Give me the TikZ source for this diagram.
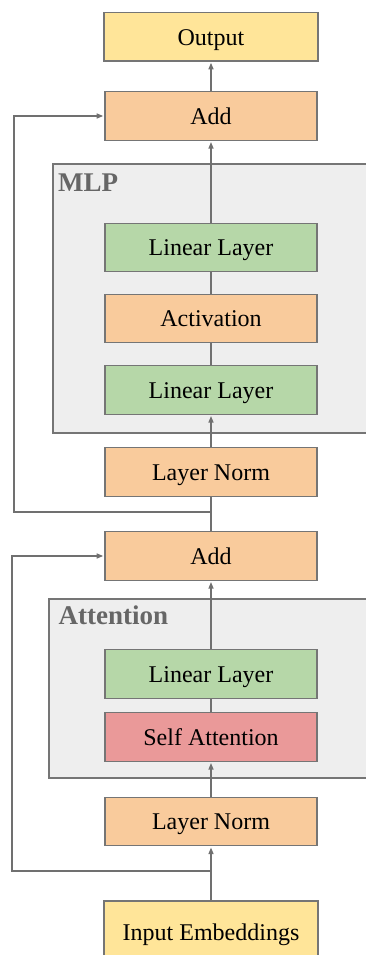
\documentclass[tikz,border=0pt]{standalone}
\usepackage{fontspec}
\setmainfont{Liberation Serif}
\usetikzlibrary{arrows.meta}
\definecolor{boxline}{HTML}{757575}
\definecolor{wire}{HTML}{707070}
\definecolor{paleyellow}{HTML}{FFE599}
\definecolor{paleorange}{HTML}{F9CB9C}
\definecolor{palegreen}{HTML}{B6D7A8}
\definecolor{palered}{HTML}{EA9999}
\definecolor{groupfill}{HTML}{EEEEEE}
\definecolor{grouptext}{HTML}{666666}

\begin{document}
\begin{tikzpicture}[x=1pt,y=-1pt,
  block/.style={draw=boxline, line width=1.2pt, minimum width=212pt, minimum height=48.5pt,
    inner sep=0pt, text height=16.6pt, text depth=0pt, font=\fontsize{24}{28}\selectfont},
  ioblock/.style={block, fill=paleyellow, minimum width=214pt},
  normblock/.style={block, fill=paleorange},
  linblock/.style={block, fill=palegreen},
  attblock/.style={block, fill=palered},
  group/.style={draw=boxline, line width=1.2pt, fill=groupfill},
  grouplabel/.style={anchor=base west, inner sep=0pt, text=grouptext,
    font=\fontsize{27}{30}\selectfont\bfseries},
  flow/.style={draw=wire, line width=1.3pt},
  arr/.style={flow, -{Triangle[length=6.5pt,width=5pt]}, shorten >=1.2pt}]

\useasboundingbox (0,0) rectangle (366,955);
\clip (0,0) rectangle (366,955);

% grouping panels
\path[group] (53,164) rectangle (372,433);
\node[grouplabel] (mlplabel) at (58,191) {MLP};
\path[group] (49,599) rectangle (372,778);
\node[grouplabel] (attlabel) at (58.5,624) {Attention};

% blocks, top to bottom
\node[ioblock]   (out)     at (211,36.75) {Output};
\node[normblock] (addtop)  at (211,116)   {Add};
\node[linblock]  (lin2)    at (211,247.5) {Linear Layer};
\node[normblock] (act)     at (211,318.5) {Activation};
\node[linblock]  (lin1)    at (211,390)   {Linear Layer};
\node[normblock] (ln2)     at (211,472)   {Layer Norm};
\node[normblock] (addmid)  at (211,556)   {Add};
\node[linblock]  (attlin)  at (211,674)   {Linear Layer};
\node[attblock]  (selfatt) at (211,737)   {Self Attention};
\node[normblock] (ln1)     at (211,821.5) {Layer Norm};
\node[ioblock, minimum height=61.4pt] (inp) at (211,931.7) {Input Embeddings};

% main data path
\draw[arr]  (inp) -- (ln1);
\draw[arr]  (ln1) -- (selfatt);
\draw[flow] (selfatt) -- (attlin);
\draw[arr]  (attlin) -- (addmid);
\draw[flow] (addmid) -- (ln2);
\draw[arr]  (ln2) -- (lin1);
\draw[flow] (lin1) -- (act);
\draw[flow] (act) -- (lin2);
\draw[arr]  (lin2) -- (addtop);
\draw[arr]  (addtop) -- (out);

% residual connections
\coordinate (br1) at (211,871);
\coordinate (lft1) at (12,871);
\draw[arr] (br1) -- (lft1) |- (addmid.west);
\coordinate (br2) at (211,512);
\coordinate (lft2) at (14,512);
\draw[arr] (br2) -- (lft2) |- (addtop.west);
\end{tikzpicture}
\end{document}
